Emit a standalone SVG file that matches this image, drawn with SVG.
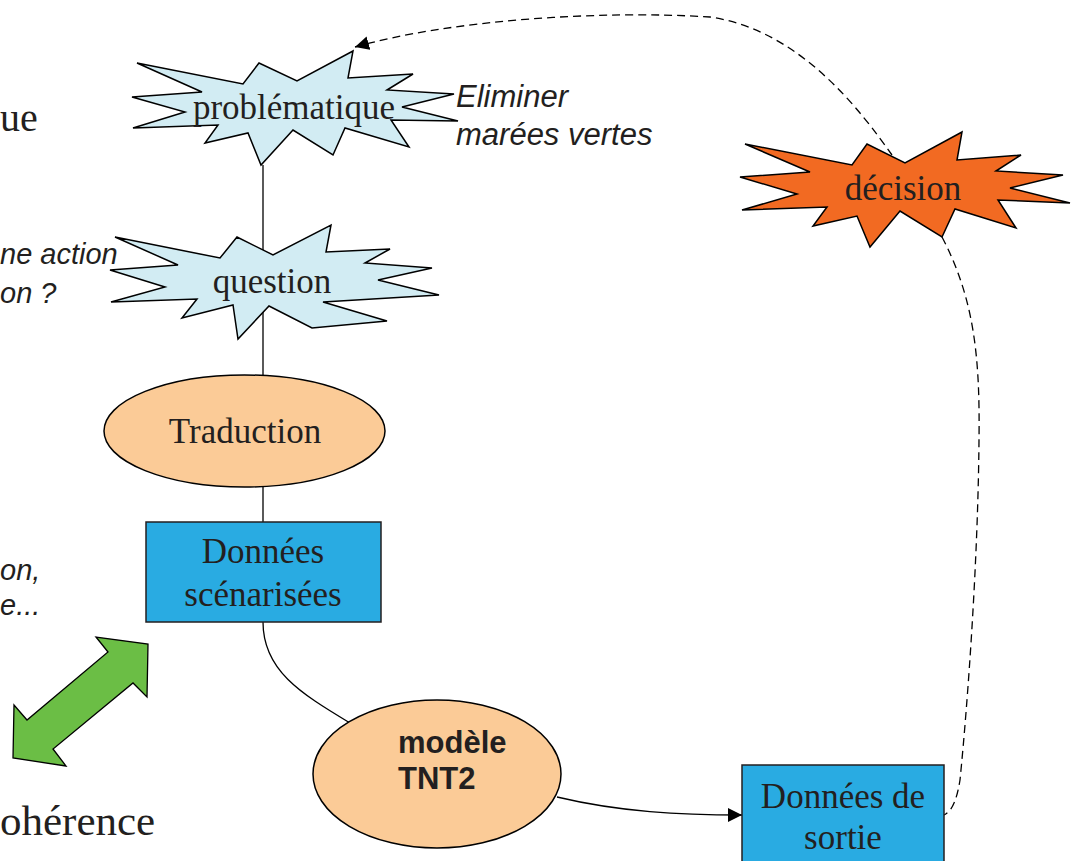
<svg xmlns="http://www.w3.org/2000/svg" width="1084" height="861" viewBox="0 0 1084 861">
<defs>
<marker id="ah" viewBox="0 0 10 10" refX="10" refY="5" markerWidth="14" markerHeight="14" markerUnits="userSpaceOnUse" orient="auto">
<path d="M0,0 L10,5 L0,10 Z" fill="#000"/>
</marker>
<style>
.serif{font-family:"Liberation Serif","Times New Roman",serif;fill:#231F20;}
.it{font-family:"Liberation Sans",Arial,sans-serif;font-style:italic;fill:#231F20;font-size:29px;}
.it31{font-size:31px;}
.burst{fill:#D2ECF3;stroke:#000;stroke-width:1.5;stroke-linejoin:miter;}
.ell{fill:#FBCB97;stroke:#000;stroke-width:1.5;}
.box{fill:#29ABE2;stroke:#231F20;stroke-width:1.5;}
.line{fill:none;stroke:#000;stroke-width:1.3;}
.dash{fill:none;stroke:#000;stroke-width:1.3;stroke-dasharray:8,5;}
.nt{font-size:35px;text-anchor:middle;}
.bold{font-family:"Liberation Sans",Arial,sans-serif;font-weight:bold;font-size:31px;fill:#231F20;}
</style>
</defs>
<rect width="1084" height="861" fill="#fff"/>

<g id="side-texts">
<text class="serif" x="0" y="131" font-size="40">ue</text>
<text class="it" x="0" y="264">ne action</text>
<text class="it" x="0" y="303">on ?</text>
<text class="it" x="0" y="580">on,</text>
<text class="it" x="0" y="615">e...</text>
<text class="serif" x="0" y="835" font-size="43">ohérence</text>
<text class="it it31" x="456" y="107">Eliminer</text>
<text class="it it31" x="456" y="145">marées vertes</text>
</g>

<g id="connectors">
<path class="line" d="M263,165 L263,522"/>
<path class="line" d="M263,622 C263,670 300,693 350,723"/>
<path class="line" d="M557,797 C620,812 680,815 742,815" marker-end="url(#ah)"/>
<path class="dash" d="M942,237 C975,300 980,360 979,440 C978,560 968,700 960,780 C956,805 950,812 944,815"/>
<path class="dash" d="M892,155 C860,110 800,30 710,17 C600,10 450,20 355,47" marker-end="url(#ah)"/>
</g>

<g id="problematique">
<polygon class="burst" points="137,63 243,84 259,63 297,81 353,51 348,78 413,74 387,90 454,94 402,107 458,121 391,120 409,147 345,128 333,155 293,130 261,165 248,133 205,143 218,125 133,128 185,112 132,97 202,92"/>
<text class="serif nt" x="294" y="119">problématique</text>
</g>

<g id="question">
<polygon class="burst" points="115,237 220,258 237,237 273,255 331,225 326,252 390,249 365,263 432,268 378,280 439,295 323,302 387,321 312,328 269,306 238,339 233,305 182,318 197,299 111,302 165,287 110,270 178,265"/>
<text class="serif nt" x="272" y="293">question</text>
</g>

<g id="traduction">
<ellipse class="ell" cx="244.5" cy="431" rx="140.5" ry="56"/>
<text class="serif nt" x="245" y="443">Traduction</text>
</g>

<g id="donnees-scenarisees">
<rect class="box" x="146" y="522" width="235" height="100"/>
<text class="serif nt" x="263" y="563">Données</text>
<text class="serif nt" x="263" y="606">scénarisées</text>
</g>

<g id="double-arrow">
<polygon points="148,644 147,697 133,683 53,749 66,766 13,758 14,705 27,720 108,652 96,637" fill="#6BBE45" stroke="#000" stroke-width="1.3"/>
</g>

<g id="modele">
<ellipse class="ell" cx="437" cy="774" rx="124" ry="74"/>
<text class="bold" x="398" y="753">modèle</text>
<text class="bold" x="398" y="789">TNT2</text>
</g>

<g id="donnees-sortie">
<rect class="box" x="742" y="765" width="202" height="110"/>
<text class="serif nt" x="843" y="808">Données de</text>
<text class="serif nt" x="843" y="849">sortie</text>
</g>

<g id="decision">
<polygon points="745,144 852,165 867,144 905,163 962,132 957,160 1021,155 996,171 1063,175 1010,188 1070,203 998,200 1016,228 955,209 942,237 900,211 870,247 857,216 813,226 827,207 742,210 797,194 740,177 810,172" fill="#F26A22" stroke="#000" stroke-width="1.5"/>
<text class="serif nt" x="903" y="200">décision</text>
</g>
</svg>
